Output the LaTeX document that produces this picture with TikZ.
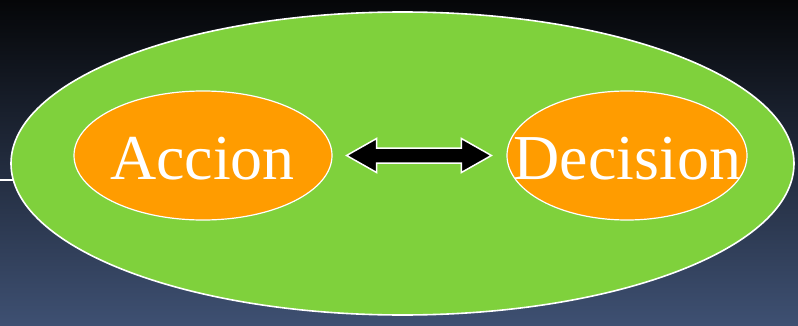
\documentclass[tikz,border=0pt]{standalone}
\usepackage{fontspec}
\setmainfont{Liberation Serif}
\usetikzlibrary{shapes.geometric,calc}
\definecolor{bgtop}{HTML}{050608}
\definecolor{bgbot}{HTML}{3E5072}
\definecolor{leaf}{HTML}{7FD13C}
\definecolor{amber}{HTML}{FF9C00}
\tikzset{
  bigoval/.style={ellipse, fill=leaf, draw=white, line width=1.6pt, inner sep=0pt},
  smalloval/.style={ellipse, fill=amber, draw=white, line width=1.2pt, inner sep=0pt},
  ovaltext/.style={text=white, inner sep=0pt, anchor=base, font=\fontsize{64}{70}\selectfont},
  arrowbox/.style={fill=black, draw=white, line width=1.5pt, line join=miter},
  thinline/.style={draw=white, line width=1.5pt}
}
\begin{document}
\begin{tikzpicture}[x=1pt,y=1pt]
\useasboundingbox (0,0) rectangle (798,325);
\shade[top color=bgtop, bottom color=bgbot] (0,0) rectangle (798,325);
\coordinate (ls) at (0,145);
\coordinate (le) at (30,145);
\draw[thinline] (ls) -- (le);
\node[bigoval, minimum width=783pt, minimum height=303pt] (green) at (402.5,161.5) {};
\node[smalloval, minimum width=258pt, minimum height=129pt] (acc) at (203,169.5) {};
\node[smalloval, minimum width=240pt, minimum height=129pt] (dec) at (627,169.5) {};
\node[ovaltext] (acct) at (202.5,146) {Accion};
\node[ovaltext] (dect) at (627.5,146) {Decision};
\coordinate (la) at ($(acc.east)+(14pt,0)$);
\coordinate (ra) at ($(dec.west)+(-15pt,0)$);
\draw[arrowbox] (la) -- ++(30,17) -- ++(0,-9.5) -- ($(ra)+(-30,7.5)$) -- ++(0,9.5) -- (ra)
  -- ++(-30,-17) -- ++(0,9.5) -- ($(la)+(30,-7.5)$) -- ++(0,-9.5) -- cycle;
\end{tikzpicture}
\end{document}
